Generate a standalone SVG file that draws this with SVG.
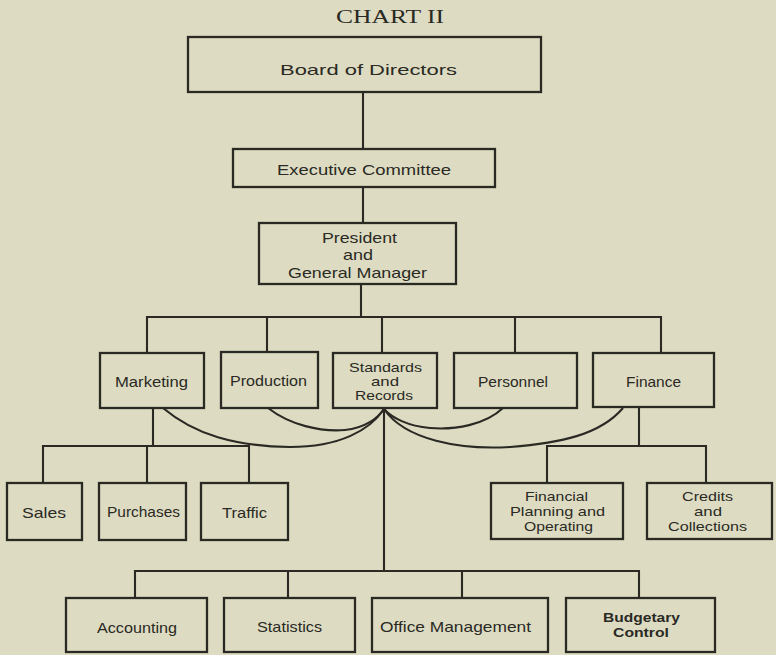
<svg xmlns="http://www.w3.org/2000/svg" width="776" height="655" viewBox="0 0 776 655">
  <style>
    .box { fill: none; stroke: #2a2924; stroke-width: 2.3; stroke-linejoin: miter; }
    .ln { fill: none; stroke: #2a2924; stroke-width: 2.1; }
    .t { font-family: "Liberation Sans", Arial, sans-serif; font-size: 15px; fill: #2a2924; text-anchor: middle; }
    .s { font-size: 13.5px; }
    .n { font-size: 13px; }
    .b { font-weight: bold; }
  </style>
  <rect x="0" y="0" width="776" height="655" fill="#dddcc2"/>

  <text x="390" y="23" font-family="Liberation Serif, Times New Roman, serif" font-size="19" fill="#2a2924" text-anchor="middle" textLength="108" lengthAdjust="spacingAndGlyphs">CHART II</text>

  <!-- connectors -->
  <g id="connectors">
    <path class="ln" d="M363,92 V149"/>
    <path class="ln" d="M363,187 V223"/>
    <path class="ln" d="M361,284 V317"/>
    <path class="ln" d="M147,353 V317 H661 V353"/>
    <path class="ln" d="M267,317 V353"/>
    <path class="ln" d="M382,317 V353"/>
    <path class="ln" d="M515,317 V353"/>
    <!-- Marketing to its units -->
    <path class="ln" d="M153,408 V446"/>
    <path class="ln" d="M43,483 V446 H249 V483"/>
    <path class="ln" d="M147,446 V483"/>
    <!-- Finance to its units -->
    <path class="ln" d="M639,406 V446"/>
    <path class="ln" d="M547,483 V446 H706 V483"/>
    <!-- staff lines from Standards and Records -->
    <path class="ln" d="M163,408 C195,435 235,446 290,447 C340,447 370,430 384,409"/>
    <path class="ln" d="M268,408 C290,425 320,432 345,430 C365,428 378,418 384,409"/>
    <path class="ln" d="M503,408 C485,425 455,430 430,428 C408,426 392,418 384,409"/>
    <path class="ln" d="M623,408 C600,435 560,443 510,447 C460,450 405,440 384,409"/>
    <path class="ln" d="M384,408 V571"/>
    <path class="ln" d="M135,598 V571 H639 V598"/>
    <path class="ln" d="M288,571 V598"/>
    <path class="ln" d="M462,571 V598"/>
  </g>

  <g id="board">
    <rect class="box" x="188" y="37" width="353" height="55"/>
    <text class="t" x="368.5" y="75" font-size="24" textLength="177" lengthAdjust="spacingAndGlyphs">Board of Directors</text>
  </g>
  <g id="executive-committee">
    <rect class="box" x="233" y="149" width="262" height="38"/>
    <text class="t" x="364" y="175" font-size="16.5" textLength="174" lengthAdjust="spacingAndGlyphs">Executive Committee</text>
  </g>
  <g id="president">
    <rect class="box" x="259" y="223" width="197" height="61"/>
    <text class="t" x="359.5" y="243" font-size="16" textLength="75" lengthAdjust="spacingAndGlyphs">President</text>
    <text class="t" x="358" y="260" font-size="16" textLength="30" lengthAdjust="spacingAndGlyphs">and</text>
    <text class="t" x="357.5" y="278" font-size="16" textLength="139" lengthAdjust="spacingAndGlyphs">General Manager</text>
  </g>

  <g id="marketing">
    <rect class="box" x="100" y="353" width="104" height="55"/>
    <text class="t" x="151.5" y="387" textLength="73" lengthAdjust="spacingAndGlyphs">Marketing</text>
  </g>
  <g id="production">
    <rect class="box" x="221" y="352" width="97" height="56"/>
    <text class="t" x="268.5" y="386" textLength="77" lengthAdjust="spacingAndGlyphs">Production</text>
  </g>
  <g id="standards">
    <rect class="box" x="333" y="353" width="104" height="55"/>
    <text class="t n" x="385.5" y="372" textLength="73" lengthAdjust="spacingAndGlyphs">Standards</text>
    <text class="t n" x="385" y="386" textLength="28" lengthAdjust="spacingAndGlyphs">and</text>
    <text class="t n" x="384" y="400" textLength="58" lengthAdjust="spacingAndGlyphs">Records</text>
  </g>
  <g id="personnel">
    <rect class="box" x="454" y="353" width="123" height="55"/>
    <text class="t" x="513" y="387" textLength="70" lengthAdjust="spacingAndGlyphs">Personnel</text>
  </g>
  <g id="finance">
    <rect class="box" x="593" y="353" width="121" height="54"/>
    <text class="t" x="653.5" y="387" textLength="55" lengthAdjust="spacingAndGlyphs">Finance</text>
  </g>

  <g id="sales">
    <rect class="box" x="7" y="483" width="75" height="57"/>
    <text class="t" x="44" y="518" textLength="44" lengthAdjust="spacingAndGlyphs">Sales</text>
  </g>
  <g id="purchases">
    <rect class="box" x="99" y="483" width="87" height="57"/>
    <text class="t" x="143.5" y="517" textLength="73" lengthAdjust="spacingAndGlyphs">Purchases</text>
  </g>
  <g id="traffic">
    <rect class="box" x="201" y="483" width="87" height="57"/>
    <text class="t" x="244.5" y="518" textLength="45" lengthAdjust="spacingAndGlyphs">Traffic</text>
  </g>

  <g id="financial-planning">
    <rect class="box" x="491" y="483" width="132" height="56"/>
    <text class="t s" x="556.5" y="501" textLength="63" lengthAdjust="spacingAndGlyphs">Financial</text>
    <text class="t s" x="557.5" y="516" textLength="95" lengthAdjust="spacingAndGlyphs">Planning and</text>
    <text class="t s" x="558.5" y="531" textLength="69" lengthAdjust="spacingAndGlyphs">Operating</text>
  </g>
  <g id="credits">
    <rect class="box" x="647" y="483" width="125" height="56"/>
    <text class="t s" x="707.5" y="501" textLength="51" lengthAdjust="spacingAndGlyphs">Credits</text>
    <text class="t s" x="708" y="516" textLength="28" lengthAdjust="spacingAndGlyphs">and</text>
    <text class="t s" x="707.5" y="531" textLength="79" lengthAdjust="spacingAndGlyphs">Collections</text>
  </g>

  <g id="accounting">
    <rect class="box" x="66" y="598" width="141" height="54"/>
    <text class="t" x="137" y="633" textLength="80" lengthAdjust="spacingAndGlyphs">Accounting</text>
  </g>
  <g id="statistics">
    <rect class="box" x="224" y="598" width="131" height="54"/>
    <text class="t" x="289.5" y="632" textLength="65" lengthAdjust="spacingAndGlyphs">Statistics</text>
  </g>
  <g id="office-management">
    <rect class="box" x="372" y="598" width="176" height="54"/>
    <text class="t" x="455.5" y="632" textLength="151" lengthAdjust="spacingAndGlyphs">Office Management</text>
  </g>
  <g id="budgetary-control">
    <rect class="box" x="566" y="598" width="149" height="54"/>
    <text class="t n b" x="641.5" y="622" textLength="77" lengthAdjust="spacingAndGlyphs">Budgetary</text>
    <text class="t n b" x="641" y="637" textLength="56" lengthAdjust="spacingAndGlyphs">Control</text>
  </g>
</svg>
